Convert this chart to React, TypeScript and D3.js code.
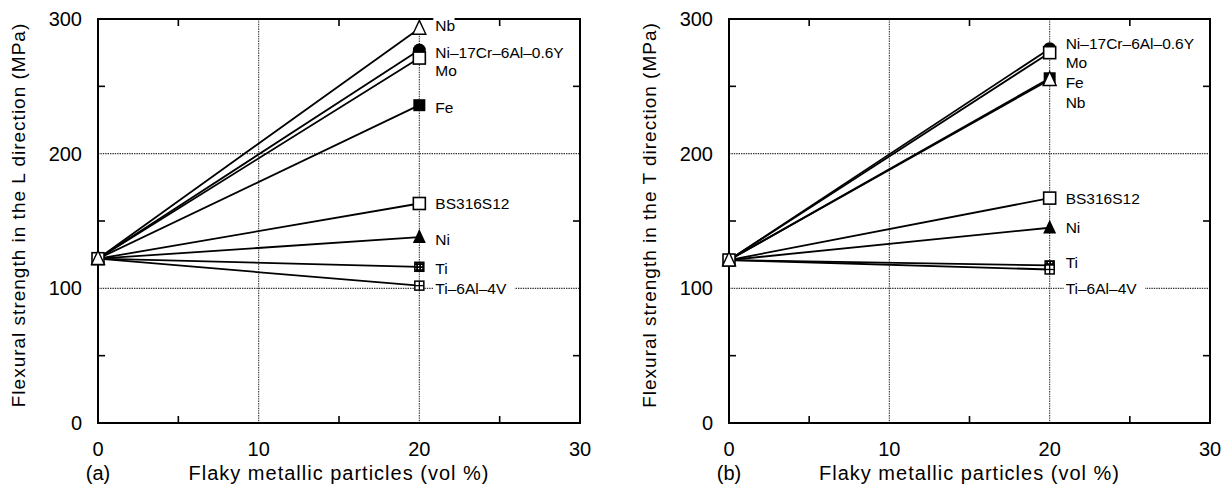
import React from 'react'
import * as d3 from 'd3'

// draw order matters: Mo square sits on the Ni-17Cr circle, Nb triangle on Fe square
const materials = ['Ni–17Cr–6Al–0.6Y', 'Mo', 'Fe', 'Nb', 'BS316S12', 'Ni', 'Ti', 'Ti–6Al–4V']
const markers = ['circleFilled', 'squareOpen', 'squareFilled', 'triangleOpen', 'squareOpen', 'triangleFilled', 'squareDot', 'squareCross']
const particleVol = [0, 20]

const baseL = 122
const strengthL = [277, 271, 236, 293, 163, 138, 116, 102]
const labelAtL = [275, 262, 234, 295.5, 163, 136, 115, 100]

const baseT = 121
const strengthT = [278, 275, 256, 255, 167, 145, 117, 114]
const labelAtT = [282, 268, 253, 238, 167, 145, 119, 100]

const xTicks = [0, 10, 20, 30]
const yTicks = [0, 100, 200, 300]
const xMinor = [5, 15, 25]
const yMinor = [50, 150, 250]
const xGrid = [10, 20]
const yGrid = [100, 200]

const FONT = '"Liberation Sans", Arial, Helvetica, sans-serif'
const TOP = 19
const BOTTOM = 423

function Marker({ kind, x, y }: { kind: string; x: number; y: number }) {
  const s = 12
  const tri = (w: number) => `M${x},${y - w * 0.62}L${x + w / 2},${y + w * 0.45}L${x - w / 2},${y + w * 0.45}Z`
  switch (kind) {
    case 'circleFilled':
      return <circle cx={x} cy={y} r={6.5} fill="#000" />
    case 'squareOpen':
      return <rect x={x - s / 2} y={y - s / 2} width={s} height={s} fill="#fff" stroke="#000" strokeWidth={1.6} />
    case 'squareFilled':
      return <rect x={x - s / 2} y={y - s / 2} width={s} height={s} fill="#000" />
    case 'triangleOpen':
      return <path d={tri(13)} fill="#fff" stroke="#000" strokeWidth={1.4} />
    case 'triangleFilled':
      return <path d={tri(13)} fill="#000" />
    case 'squareDot':
      return <rect x={x - 4.5} y={y - 4.5} width={9} height={9} fill="url(#checker)" stroke="#000" strokeWidth={1.5} />
    case 'squareCross':
      return (
        <g>
          <rect x={x - 4.5} y={y - 4.5} width={9} height={9} fill="#fff" stroke="#000" strokeWidth={1.5} />
          <line x1={x - 4.5} x2={x + 4.5} y1={y} y2={y} stroke="#000" strokeWidth={1.3} />
          <line x1={x} x2={x} y1={y - 4.5} y2={y + 4.5} stroke="#000" strokeWidth={1.3} />
        </g>
      )
    default:
      return null
  }
}

function Panel({ left, right, tag, dir, base, values, labelAt }: {
  left: number; right: number; tag: string; dir: string; base: number; values: number[]; labelAt: number[]
}) {
  const x = d3.scaleLinear().domain([0, 30]).range([left, right])
  const y = d3.scaleLinear().domain([0, 300]).range([BOTTOM, TOP])
  const tick = 7
  const midY = (TOP + BOTTOM) / 2
  return (
    <g fontFamily={FONT} fill="#000">
      {xGrid.map(v => (
        <line key={'gx' + v} x1={x(v)} x2={x(v)} y1={TOP} y2={BOTTOM} stroke="#333" strokeWidth={1.1} strokeDasharray="1.4 1" />
      ))}
      {yGrid.map(v => (
        <line key={'gy' + v} x1={left} x2={right} y1={y(v)} y2={y(v)} stroke="#333" strokeWidth={1.1} strokeDasharray="1.4 1" />
      ))}
      {xMinor.map(v => (
        <g key={'mx' + v}>
          <line x1={x(v)} x2={x(v)} y1={BOTTOM} y2={BOTTOM - tick} stroke="#000" strokeWidth={1.6} />
          <line x1={x(v)} x2={x(v)} y1={TOP} y2={TOP + tick} stroke="#000" strokeWidth={1.6} />
        </g>
      ))}
      {yMinor.map(v => (
        <g key={'my' + v}>
          <line x1={left} x2={left + tick} y1={y(v)} y2={y(v)} stroke="#000" strokeWidth={1.6} />
          <line x1={right} x2={right - tick} y1={y(v)} y2={y(v)} stroke="#000" strokeWidth={1.6} />
        </g>
      ))}

      <rect x={left} y={TOP} width={right - left} height={BOTTOM - TOP} fill="none" stroke="#000" strokeWidth={2} />

      {/* lines from the unreinforced matrix point */}
      {values.map((v, i) => (
        <line key={'l' + i} x1={x(particleVol[0])} y1={y(base)} x2={x(particleVol[1])} y2={y(v)} stroke="#000" strokeWidth={1.8} />
      ))}

      {/* labels with white backing (they cut the frame / grid) */}
      {materials.map((m, i) => (
        <rect key={'t' + i} x={x(particleVol[1]) + 14} y={y(labelAt[i]) - 9} width={m.length * 8.6 + 4} height={18} fill="#fff" />
      ))}
      {materials.map((m, i) => (
        <text key={'tx' + i} x={x(particleVol[1]) + 16} y={y(labelAt[i]) + 5.5} fontSize={15.5}>{m}</text>
      ))}

      {materials.map((m, i) => (
        <Marker key={'m' + i} kind={markers[i]} x={x(particleVol[1])} y={y(values[i])} />
      ))}
      <Marker kind="squareOpen" x={x(0)} y={y(base)} />
      <Marker kind="triangleOpen" x={x(0)} y={y(base)} />

      {xTicks.map(v => (
        <text key={'xt' + v} x={x(v)} y={BOTTOM + 33} fontSize={20} textAnchor="middle">{v}</text>
      ))}
      {yTicks.map(v => (
        <text key={'yt' + v} x={left - 16} y={y(v) + 7} fontSize={20} textAnchor="end">{v}</text>
      ))}
      <text x={left} y={BOTTOM + 57} fontSize={20} textAnchor="middle">{tag}</text>
      <text x={(left + right) / 2} y={BOTTOM + 57} fontSize={20} textAnchor="middle" letterSpacing={1}>
        Flaky metallic particles (vol %)
      </text>
      <text transform={`translate(${left - 73},${midY - 6}) rotate(-90)`} fontSize={19} textAnchor="middle" letterSpacing={1}>
        {`Flexural strength in the ${dir} direction (MPa)`}
      </text>
    </g>
  )
}

export default function App() {
  return (
    <svg width={1232} height={490} style={{ position: 'absolute', left: 0, top: 0, background: '#fff' }}>
      <defs>
        <pattern id="checker" width={3} height={3} patternUnits="userSpaceOnUse">
          <rect width={3} height={3} fill="#000" />
          <rect x={1} y={1} width={1.2} height={1.2} fill="#fff" />
        </pattern>
      </defs>
      <rect width={1232} height={490} fill="#fff" />
      <Panel left={98} right={580} tag="(a)" dir="L" base={baseL} values={strengthL} labelAt={labelAtL} />
      <Panel left={729} right={1210} tag="(b)" dir="T" base={baseT} values={strengthT} labelAt={labelAtT} />
    </svg>
  )
}
